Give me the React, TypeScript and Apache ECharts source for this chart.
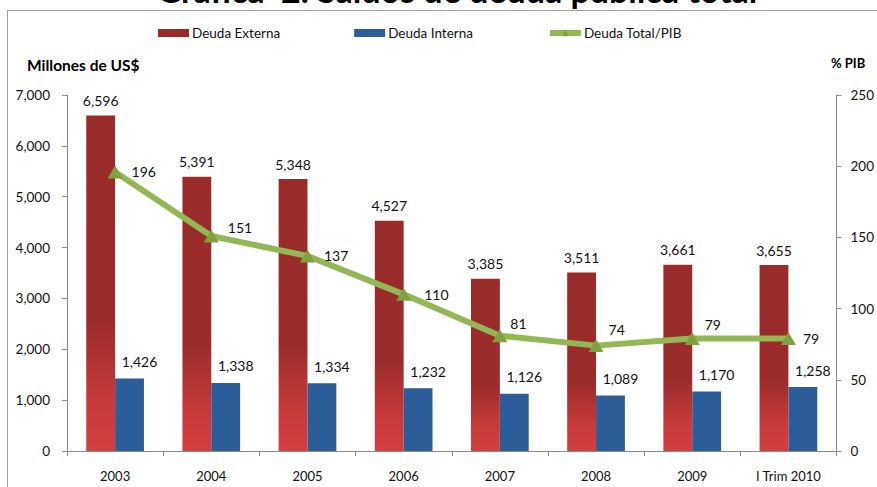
import React, { useEffect, useRef } from "react";
import * as echarts from "echarts";

const categories = ["2003", "2004", "2005", "2006", "2007", "2008", "2009", "I Trim 2010"];
const deudaExterna = [6596, 5391, 5348, 4527, 3385, 3511, 3661, 3655];
const deudaInterna = [1426, 1338, 1334, 1232, 1126, 1089, 1170, 1258];
const deudaPIB = [196, 151, 137, 110, 81, 74, 79, 79];
const leftTicks = { min: 0, max: 7000, interval: 1000 };
const rightTicks = { min: 0, max: 250, interval: 50 };

// label placement tweaks for the % PIB line (style only)
const pibLabelOffsets = [
  [0, 0],
  [0, -8],
  [0, 0],
  [4, 0],
  [-6, -12],
  [-4, -16],
  [-4, -14],
  [-2, 0],
];

const FONT = "Lato, 'Open Sans', sans-serif";
const fmt = (v: number) => v.toLocaleString("en-US");

export default function App() {
  const ref = useRef<HTMLDivElement>(null);
  useEffect(() => {
    if (!ref.current) return;
    const chart = echarts.init(ref.current, null, { renderer: "svg" });
    const redGrad = new echarts.graphic.LinearGradient(0, 0, 0, 1, [
      { offset: 0, color: "#9A2B2B" },
      { offset: 0.62, color: "#9C2C2C" },
      { offset: 0.85, color: "#C73A3A" },
      { offset: 1, color: "#D43F3F" },
    ]);
    const axisColor = "#8A8A8A";
    chart.setOption({
      animation: false,
      textStyle: { fontFamily: FONT },
      title: {
        text: "Gráfica  2. Saldos de deuda pública total",
        left: 452,
        textAlign: "center",
        top: -33,
        textStyle: { fontSize: 34, fontWeight: "bold", color: "#000", fontFamily: FONT },
      },
      legend: {
        left: 158,
        top: 26,
        padding: 0,
        itemWidth: 31,
        itemHeight: 8,
        itemGap: 74,
        textStyle: { fontSize: 13.5, color: "#111", fontFamily: FONT, padding: [0, 0, 0, -2] },
        data: [
          { name: "Deuda Externa", icon: "rect", itemStyle: { color: "#9A2B2B" } },
          { name: "Deuda Interna", icon: "rect" },
          { name: "Deuda Total/PIB", lineStyle: { width: 6, color: "#92B856" } },
        ],
      },
      grid: { left: 67, right: 34, top: 95, bottom: 36 },
      xAxis: {
        type: "category",
        data: categories,
        axisLine: { lineStyle: { color: axisColor } },
        axisTick: { show: true, length: 5, lineStyle: { color: axisColor } },
        axisLabel: { fontSize: 13, color: "#111", margin: 18 },
      },
      yAxis: [
        {
          type: "value",
          ...leftTicks,
          splitLine: { show: false },
          axisLine: { show: true, lineStyle: { color: axisColor } },
          axisTick: { show: true, length: 5, lineStyle: { color: axisColor } },
          axisLabel: { fontSize: 13.5, color: "#111", margin: 17, formatter: (v: number) => fmt(v) },
        },
        {
          type: "value",
          ...rightTicks,
          position: "right",
          splitLine: { show: false },
          axisLine: { show: true, lineStyle: { color: axisColor } },
          axisTick: { show: true, length: 5, lineStyle: { color: axisColor } },
          axisLabel: { fontSize: 13.5, color: "#111", margin: 14 },
        },
      ],
      series: [
        {
          name: "Deuda Externa",
          type: "bar",
          data: deudaExterna,
          barGap: "0%",
          barCategoryGap: "40%",
          itemStyle: { color: redGrad },
          label: {
            show: true,
            position: "top",
            distance: 8,
            fontSize: 14,
            color: "#111",
            formatter: (p: any) => fmt(p.value),
          },
        },
        {
          name: "Deuda Interna",
          type: "bar",
          data: deudaInterna,
          itemStyle: { color: "#2C5D99" },
          label: {
            show: true,
            position: "top",
            distance: 10,
            offset: [10, 0],
            fontSize: 14,
            color: "#111",
            formatter: (p: any) => fmt(p.value),
          },
        },
        {
          name: "Deuda Total/PIB",
          type: "line",
          yAxisIndex: 1,
          data: deudaPIB.map((v, i) => ({ value: v, label: { offset: pibLabelOffsets[i] } })),
          symbol: "triangle",
          symbolSize: [15, 13],
          lineStyle: { color: "#92B856", width: 6 },
          itemStyle: { color: "#7FA13E" },
          label: { show: true, position: "right", distance: 9, fontSize: 14, color: "#111" },
          z: 5,
        },
      ],
      graphic: [
        { type: "line", shape: { x1: 7, y1: 10.5, x2: 877, y2: 10.5 }, style: { stroke: "#A0A0A0", lineWidth: 1 } },
        { type: "line", shape: { x1: 7.5, y1: 10, x2: 7.5, y2: 487 }, style: { stroke: "#A0A0A0", lineWidth: 1 } },
        {
          type: "text",
          left: 27,
          top: 57,
          style: { text: "Millones de US$", font: `bold 15.5px ${FONT}`, fill: "#000" },
        },
        {
          type: "text",
          left: 831,
          top: 56,
          style: { text: "% PIB", font: `bold 13px ${FONT}`, fill: "#000" },
        },
      ],
    });
    return () => chart.dispose();
  }, []);
  return (
    <div
      ref={ref}
      style={{ position: "fixed", left: 0, top: 0, width: 877, height: 487, background: "#fff" }}
    />
  );
}
